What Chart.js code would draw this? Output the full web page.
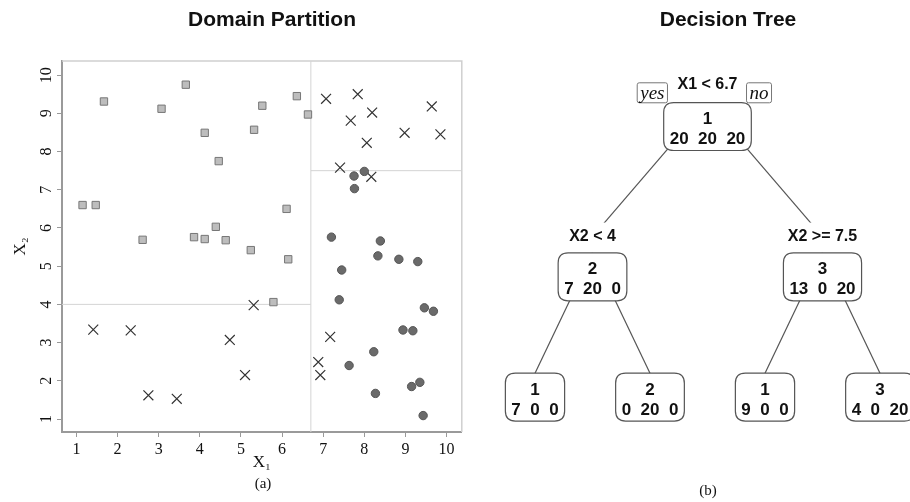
<!DOCTYPE html>
<html><head><meta charset="utf-8">
<script src="https://cdn.jsdelivr.net/npm/chart.js@4.4.1/dist/chart.umd.min.js"></script>
<style>
html,body{margin:0;padding:0;background:#fff;}
#wrap{position:relative;width:910px;height:502px;overflow:hidden;background:#fff;}
#c1{position:absolute;left:0;top:0;}
#c2{position:absolute;left:470px;top:0;}
</style></head><body>
<div id="wrap"><canvas id="c1" width="470" height="502"></canvas><canvas id="c2" width="440" height="502"></canvas></div>
<script>
// ---------- Data: domain partition (scatter) ----------
const class1X = [1.41,2.32,2.75,3.44,4.73,5.10,5.31,6.88,6.93,7.17,8.17,7.07,7.84,8.19,7.67,8.06,8.98,9.64,9.85,7.41];
const class1Y = [3.34,3.32,1.62,1.53,3.07,2.15,3.98,2.49,2.15,3.15,7.34,9.38,9.50,9.02,8.81,8.23,8.49,9.18,8.45,7.58];
const class2X = [1.15,1.47,1.67,3.07,3.66,4.12,4.46,5.52,5.32,6.36,6.63,6.11,2.61,3.86,4.12,4.39,4.63,5.24,6.15,5.79];
const class2Y = [6.60,6.60,9.31,9.12,9.75,8.49,7.75,9.20,8.57,9.45,8.97,6.50,5.69,5.76,5.71,6.03,5.68,5.42,5.18,4.06];
const class3X = [8.00,7.75,7.76,7.20,8.39,8.33,8.84,9.30,7.45,7.39,9.46,9.68,8.94,9.18,8.23,7.63,9.35,9.15,8.27,9.43];
const class3Y = [7.48,7.36,7.03,5.76,5.66,5.27,5.18,5.12,4.90,4.12,3.91,3.82,3.33,3.31,2.76,2.40,1.96,1.85,1.67,1.09];
const splitX1 = 6.7;       // root split
const splitLeftX2 = 4;     // left child split
const splitRightX2 = 7.5;  // right child split
const axisTicks = [1,2,3,4,5,6,7,8,9,10];

// ---------- Data: decision tree ----------
const nodeClass  = ['1','2','3','1','2','1','3'];
const nodeCounts = [[20,20,20],[7,20,0],[13,0,20],[7,0,0],[0,20,0],[9,0,0],[4,0,20]];
const nodeSplit  = ['X1 < 6.7','X2 < 4','X2 >= 7.5',null,null,null,null];
const nodeParent = [null,0,0,1,1,2,2];
const nodeDepth  = [0,1,1,2,2,2,2];
const branchLabels = ['yes','no'];

// ---------- layout / styles ----------
const SERIF = "'Liberation Serif','Times New Roman',serif";
const SANS = "'Liberation Sans',Arial,Helvetica,sans-serif";
const xMin = 0.65, xMax = 10.37, yMin = 0.66, yMax = 10.37;
const zip = (xs, ys) => xs.map((x, i) => ({x, y: ys[i]}));
const lineStyle = {showLine:true, borderColor:'#d4d4d4', borderWidth:1, pointRadius:0, order:10, fill:false};

const framePlugin = {
  id:'frame',
  beforeDatasetsDraw(chart){
    const {ctx, chartArea:a} = chart;
    ctx.save();
    ctx.strokeStyle = '#cfcfcf'; ctx.lineWidth = 1.5;
    ctx.beginPath();
    ctx.moveTo(a.left, a.top); ctx.lineTo(a.right, a.top); ctx.lineTo(a.right, a.bottom);
    ctx.stroke();
    ctx.restore();
  },
  afterDraw(chart){
    const {ctx} = chart;
    ctx.save();
    ctx.fillStyle = '#111';
    ctx.textAlign = 'center'; ctx.textBaseline = 'middle';
    ctx.font = "bold 21px " + SANS;
    ctx.fillText('Domain Partition', 272, 20);
    ctx.font = "15px " + SERIF;
    ctx.fillText('(a)', 263, 484);
    ctx.restore();
  }
};

new Chart(document.getElementById('c1'), {
  type:'scatter',
  data:{datasets:[
    Object.assign({data:[{x:splitX1,y:yMin},{x:splitX1,y:yMax}]}, lineStyle),
    Object.assign({data:[{x:xMin,y:splitLeftX2},{x:splitX1,y:splitLeftX2}]}, lineStyle),
    Object.assign({data:[{x:splitX1,y:splitRightX2},{x:xMax,y:splitRightX2}]}, lineStyle),
    {label:'class 2', data:zip(class2X,class2Y), pointStyle:'rect', pointRadius:5.2, backgroundColor:'#bdbdbd', borderColor:'#777', borderWidth:1},
    {label:'class 3', data:zip(class3X,class3Y), pointStyle:'circle', pointRadius:4.2, backgroundColor:'#6a6a6a', borderColor:'#555', borderWidth:1},
    {label:'class 1', data:zip(class1X,class1Y), pointStyle:'crossRot', pointRadius:7, backgroundColor:'#333', borderColor:'#333', borderWidth:1.2}
  ]},
  options:{
    responsive:false, animation:false, events:[],
    layout:{padding:{left:0,top:61,right:8,bottom:0}},
    plugins:{legend:{display:false}, tooltip:{enabled:false}},
    scales:{
      x:{type:'linear', min:xMin, max:xMax,
        afterFit(s){ s.height = 70; },
        afterBuildTicks(s){ s.ticks = axisTicks.map(v => ({value:v})); },
        ticks:{font:{family:SERIF,size:16}, color:'#111', padding:3, autoSkip:false, maxRotation:0, callback:v=>String(v)},
        grid:{drawOnChartArea:false, drawTicks:true, tickLength:5, color:'#999', tickWidth:1},
        border:{display:true, color:'#9a9a9a', width:2},
        title:{display:true, text:'X\u2081', font:{family:SERIF,size:17}, color:'#111', padding:{top:0,bottom:29}}
      },
      y:{type:'linear', min:yMin, max:yMax,
        afterFit(s){ s.width = 62; },
        afterBuildTicks(s){ s.ticks = axisTicks.map(v => ({value:v})); },
        ticks:{font:{family:SERIF,size:16}, color:'#111', padding:2, minRotation:90, maxRotation:90, crossAlign:'center', autoSkip:false, callback:v=>String(v)},
        grid:{drawOnChartArea:false, drawTicks:true, tickLength:5, color:'#999', tickWidth:1},
        border:{display:true, color:'#9a9a9a', width:2},
        title:{display:true, text:'X\u2082', font:{family:SERIF,size:17}, color:'#111', padding:{top:10,bottom:0}}
      }
    }
  },
  plugins:[framePlugin]
});

// ---------- tree layout (slot / level units) ----------
const leafOrder = [3,4,5,6];
const levelPos = [0, 1, 1.8];
const TW = 440, TH = 502;
const txMin = -0.5652, txMax = 3.2609, tyMin = -0.8403, tyMax = 2.4997;
const pxPerLevel = TH / (tyMax - tyMin);
const boxHalfH = 23.7, labelAbove = 40;
// slots: leaves get consecutive slots, parents the mean of children
const nodeSlot = [];
leafOrder.forEach((n,i)=> nodeSlot[n] = i);
for (let n = nodeParent.length-1; n >= 0; n--) {
  if (nodeSlot[n] === undefined) {
    const kids = nodeParent.map((p,i)=>p===n?i:-1).filter(i=>i>=0);
    nodeSlot[n] = kids.reduce((s,k)=>s+nodeSlot[k],0)/kids.length;
  }
}
const nodeLevel = nodeDepth.map(d => levelPos[d]);
const edges = [];
nodeParent.forEach((p, c) => {
  if (p === null) return;
  const from = {x:nodeSlot[p], y:nodeLevel[p] - boxHalfH/pxPerLevel};
  const to = nodeSplit[c] ? {x:nodeSlot[c], y:nodeLevel[c] - labelAbove/pxPerLevel}
                          : {x:nodeSlot[c], y:nodeLevel[c] - boxHalfH/pxPerLevel};
  edges.push([from, to]);
});

function rr(ctx, x, y, w, h, r){
  ctx.beginPath();
  ctx.moveTo(x+r, y); ctx.lineTo(x+w-r, y); ctx.quadraticCurveTo(x+w, y, x+w, y+r);
  ctx.lineTo(x+w, y+h-r); ctx.quadraticCurveTo(x+w, y+h, x+w-r, y+h);
  ctx.lineTo(x+r, y+h); ctx.quadraticCurveTo(x, y+h, x, y+h-r);
  ctx.lineTo(x, y+r); ctx.quadraticCurveTo(x, y, x+r, y);
  ctx.closePath();
}

const treePlugin = {
  id:'tree',
  afterDatasetsDraw(chart){
    const {ctx, scales:{x:xs, y:ys}} = chart;
    ctx.save();
    ctx.textAlign = 'center'; ctx.textBaseline = 'middle';
    nodeClass.forEach((cls, n) => {
      const cx = xs.getPixelForValue(nodeSlot[n]);
      const cy = ys.getPixelForValue(nodeLevel[n]);
      // split label
      if (nodeSplit[n]) {
        ctx.font = "bold 16px " + SANS;
        const lw = ctx.measureText(nodeSplit[n]).width;
        const ly = cy - labelAbove - (n===0 ? 2 : 0);
        ctx.fillStyle = '#fff';
        ctx.fillRect(cx - lw/2 - 3, ly - 14, lw + 6, 26);
        ctx.fillStyle = '#111';
        ctx.fillText(nodeSplit[n], cx, ly);
        if (n === 0) {
          ctx.font = "italic 19px " + SERIF;
          const yw = ctx.measureText(branchLabels[0]).width;
          const nw = ctx.measureText(branchLabels[1]).width;
          const by = ly + 8.5;
          const yx = cx - lw/2 - 10 - (yw+6)/2;
          const nx = cx + lw/2 + 9 + (nw+6)/2;
          [[branchLabels[0], yx, yw],[branchLabels[1], nx, nw]].forEach(([t, bx, w])=>{
            ctx.fillStyle = '#fff'; ctx.strokeStyle = '#777'; ctx.lineWidth = 1;
            rr(ctx, bx - w/2 - 3, by - 10, w + 6, 20, 2);
            ctx.fill(); ctx.stroke();
            ctx.fillStyle = '#111';
            ctx.fillText(t, bx, by + 1);
          });
        }
      }
      // node box
      ctx.font = "bold 17px " + SANS;
      const line2 = nodeCounts[n].join('  ');
      const tw = Math.max(ctx.measureText(line2).width, ctx.measureText(cls).width);
      const bw = tw + 12, bh = boxHalfH*2 + 0.5;
      ctx.fillStyle = '#fff'; ctx.strokeStyle = '#555'; ctx.lineWidth = 1.2;
      rr(ctx, cx - bw/2, cy - boxHalfH, bw, bh, 10);
      ctx.fill(); ctx.stroke();
      ctx.fillStyle = '#111';
      ctx.fillText(cls, cx, cy - 7);
      ctx.fillText(line2, cx, cy + 13);
    });
    ctx.restore();
  },
  afterDraw(chart){
    const {ctx} = chart;
    ctx.save();
    ctx.fillStyle = '#111'; ctx.textAlign = 'center'; ctx.textBaseline = 'middle';
    ctx.font = "bold 21px " + SANS;
    ctx.fillText('Decision Tree', 258, 20);
    ctx.font = "15px " + SERIF;
    ctx.fillText('(b)', 238, 491);
    ctx.restore();
  }
};

new Chart(document.getElementById('c2'), {
  type:'scatter',
  data:{datasets: edges.map(e => ({data:e, showLine:true, borderColor:'#555', borderWidth:1.2, pointRadius:0, fill:false}))},
  options:{
    responsive:false, animation:false, events:[],
    layout:{padding:0},
    plugins:{legend:{display:false}, tooltip:{enabled:false}},
    scales:{
      x:{type:'linear', display:false, min:txMin, max:txMax},
      y:{type:'linear', display:false, reverse:true, min:tyMin, max:tyMax}
    }
  },
  plugins:[treePlugin]
});
</script>
</body></html>
